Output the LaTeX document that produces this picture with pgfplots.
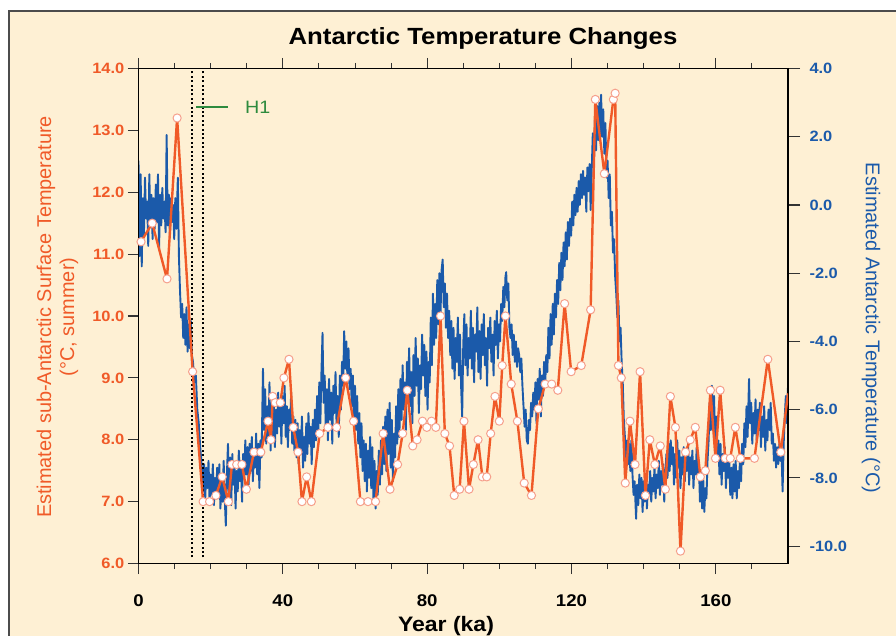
\documentclass[border=0pt]{standalone}
\usepackage{pgfplots}
\pgfplotsset{compat=1.18}
\usepackage{fontspec}
\setmainfont{Liberation Sans}[FakeStretch=1.1]
\newfontfamily\plainsans{Liberation Sans}
\definecolor{bg}{HTML}{FEF0D4}
\definecolor{oran}{HTML}{F05A28}
\definecolor{blu}{HTML}{1B5AAA}
\definecolor{mkedge}{HTML}{F6A08C}
\definecolor{hgreen}{HTML}{2E8B3E}
\definecolor{tickc}{HTML}{333333}
\begin{document}
\begin{tikzpicture}
\path[use as bounding box] (0,0) rectangle (896bp,636bp);
\fill[white] (0,0) rectangle (896bp,636bp);
\fill[bg] (9bp,0) rectangle (896bp,625bp);
\draw[gray!60!black, line width=1.5bp] (9bp,0) -- (9bp,625bp) -- (896bp,625bp);

% ---------------- right (blue) axis ----------------
\begin{axis}[
  at={(138.5bp,72.5bp)}, anchor=south west,
  width=649.5bp, height=495bp, scale only axis,
  xmin=0, xmax=180, ymin=-10.51, ymax=4.0,
  axis x line=none, axis y line*=right,
  ytick={-10,-8,-6,-4,-2,0,2,4},
  yticklabels={-10.0,-8.0,-6.0,-4.0,-2.0,0.0,2.0,4.0},
  tick align=outside, major tick length=12bp,
  y axis line style={line width=1.2bp, black},
  every tick/.style={tickc, line width=1.2bp},
  yticklabel style={font=\fontsize{15}{15}\selectfont\bfseries, text=blu, anchor=west, xshift=6bp},
]
\addplot[blu, line width=1.9bp, line join=round] coordinates {
(0.0,1.3)(0.3,-1.5)(0.6,0.9)(0.9,-1.8)(1.2,0.2)(1.5,-0.9)(1.8,0.8)(2.1,-0.4)(2.4,0.1)(2.7,-1.2)
(3.0,0.9)(3.3,-0.6)(3.6,0.3)(3.9,-1.0)(4.2,0.2)(4.5,-0.7)(4.8,0.6)(5.1,-0.5)(5.4,0.9)(5.7,-1.3)
(6.0,0.3)(6.3,-0.6)(6.6,0.5)(6.9,-0.4)(7.2,0.1)(7.5,-0.8)(7.8,2.05)(8.1,-0.6)(8.4,0.3)(8.7,-0.9)
(9.0,0.2)(9.3,-0.5)(9.6,0.0)(9.9,-1.0)(10.2,0.2)(10.5,-0.7)(10.9,0.8)(11.2,-1.5)(11.5,-2.5)(11.8,-3.3)
(12.1,-2.9)(12.4,-3.9)(12.7,-3.2)(13.0,-4.1)(13.3,-3.0)(13.6,-4.3)(13.9,-3.5)(14.2,-4.2)(14.5,-3.4)(14.8,-4.4)
(15.1,-4.6)(15.5,-5.2)(15.9,-5.0)(16.3,-6.0)(16.7,-6.4)(17.1,-7.1)(17.5,-7.6)(17.9,-8.4)(18.2,-7.6)(18.5,-8.6)
(18.8,-7.7)(19.1,-8.3)(19.4,-7.5)(19.7,-8.7)(20.0,-7.9)(20.3,-8.5)(20.6,-7.6)(20.9,-8.8)(21.2,-8.0)(21.5,-8.6)
(21.8,-7.7)(22.1,-8.4)(22.4,-7.6)(22.7,-8.9)(23.0,-8.1)(23.3,-8.7)(23.6,-7.5)(23.9,-8.6)(24.2,-9.4)(24.5,-7.9)
(24.8,-7.0)(25.1,-8.5)(25.4,-7.4)(25.7,-8.8)(26.0,-7.3)(26.3,-8.2)(26.6,-7.6)(26.9,-8.9)(27.2,-7.8)(27.5,-8.4)
(27.8,-7.2)(28.1,-8.1)(28.4,-7.5)(28.7,-8.7)(29.0,-7.3)(29.3,-8.0)(29.6,-6.9)(29.9,-7.9)(30.2,-7.1)(30.5,-8.2)
(30.8,-7.0)(31.1,-7.8)(31.4,-6.8)(31.7,-8.1)(32.0,-7.2)(32.3,-7.7)(32.6,-6.7)(32.9,-7.9)(33.2,-7.0)(33.5,-8.3)
(33.8,-6.9)(34.1,-7.4)(34.5,-4.8)(34.8,-6.6)(35.1,-5.4)(35.4,-7.0)(35.7,-5.9)(36.0,-6.8)(36.3,-5.2)(36.6,-7.2)
(36.9,-6.1)(37.2,-6.9)(37.5,-5.7)(37.8,-7.1)(38.1,-6.0)(38.4,-6.7)(38.7,-5.5)(39.0,-6.5)(39.3,-5.8)(39.6,-7.0)
(39.9,-5.6)(40.2,-6.4)(40.5,-5.3)(40.8,-6.8)(41.1,-5.9)(41.4,-7.1)(41.7,-6.0)(42.0,-6.6)(42.3,-5.5)(42.6,-7.0)
(42.9,-6.2)(43.2,-7.2)(43.5,-6.3)(43.8,-7.4)(44.1,-6.4)(44.4,-7.6)(44.7,-6.6)(45.0,-7.3)(45.3,-6.2)(45.6,-7.7)
(45.9,-6.8)(46.2,-7.5)(46.5,-6.4)(46.8,-7.3)(47.1,-6.1)(47.4,-7.0)(47.7,-6.5)(48.0,-7.6)(48.3,-6.3)(48.6,-7.1)
(48.9,-6.0)(49.2,-6.9)(49.5,-5.6)(49.8,-6.7)(50.1,-5.2)(50.4,-6.4)(50.7,-4.9)(51.0,-3.75)(51.3,-5.8)(51.6,-5.0)
(51.9,-6.6)(52.2,-5.4)(52.5,-6.9)(52.8,-5.1)(53.1,-6.3)(53.4,-5.5)(53.7,-7.0)(54.0,-5.3)(54.3,-6.1)(54.6,-4.9)
(54.9,-6.5)(55.2,-5.6)(55.5,-6.8)(55.8,-5.0)(56.1,-6.0)(56.4,-4.6)(56.7,-5.3)(57.0,-3.7)(57.3,-4.8)(57.6,-4.0)
(57.9,-5.1)(58.2,-4.2)(58.5,-5.4)(58.8,-4.8)(59.1,-5.9)(59.4,-5.0)(59.7,-6.3)(60.0,-5.3)(60.3,-6.6)(60.6,-5.6)
(60.9,-7.0)(61.2,-6.1)(61.5,-7.4)(61.8,-6.4)(62.1,-7.8)(62.4,-6.9)(62.7,-8.1)(63.0,-7.0)(63.3,-8.4)(63.6,-7.2)
(63.9,-8.0)(64.2,-6.8)(64.5,-8.3)(64.8,-7.1)(65.1,-8.6)(65.4,-7.5)(65.7,-8.9)(66.0,-7.8)(66.3,-8.5)(66.6,-7.2)
(66.9,-8.2)(67.2,-6.9)(67.5,-7.9)(67.8,-6.5)(68.1,-7.6)(68.4,-6.2)(68.7,-7.8)(69.0,-6.0)(69.3,-7.3)(69.6,-5.8)
(69.9,-7.7)(70.2,-6.3)(70.5,-8.1)(70.8,-6.7)(71.1,-7.4)(71.4,-5.9)(71.7,-7.0)(72.0,-5.4)(72.3,-6.8)(72.6,-5.1)
(72.9,-6.3)(73.2,-4.7)(73.5,-6.0)(73.8,-5.2)(74.1,-6.6)(74.4,-4.6)(74.7,-5.7)(75.0,-4.2)(75.3,-5.9)(75.6,-4.9)
(75.9,-6.4)(76.2,-4.4)(76.5,-5.6)(76.8,-3.9)(77.1,-5.3)(77.4,-4.5)(77.7,-6.1)(78.0,-4.7)(78.3,-5.4)(78.6,-3.8)
(78.9,-5.0)(79.2,-4.1)(79.5,-5.6)(79.8,-4.3)(80.1,-6.0)(80.4,-4.6)(80.7,-5.2)(81.0,-3.3)(81.3,-4.7)(81.6,-2.6)
(81.9,-4.1)(82.2,-2.9)(82.5,-3.9)(82.8,-2.2)(83.1,-3.5)(83.4,-2.0)(83.7,-3.2)(84.0,-1.9)(84.3,-1.6)(84.6,-3.0)
(84.9,-2.3)(85.2,-3.6)(85.5,-2.6)(85.8,-3.9)(86.1,-3.1)(86.4,-4.4)(86.7,-3.4)(87.0,-4.8)(87.3,-3.6)(87.6,-5.1)
(87.9,-3.9)(88.2,-4.6)(88.5,-3.3)(88.8,-5.0)(89.1,-3.8)(89.4,-5.3)(89.7,-6.2)(90.0,-4.1)(90.3,-3.2)(90.6,-4.7)
(90.9,-3.5)(91.2,-5.0)(91.5,-3.9)(91.8,-4.5)(92.1,-3.1)(92.4,-4.8)(92.7,-3.6)(93.0,-5.2)(93.3,-3.8)(93.6,-4.3)
(93.9,-3.0)(94.2,-4.9)(94.5,-3.7)(94.8,-5.1)(95.1,-3.5)(95.4,-4.4)(95.7,-3.2)(96.0,-4.7)(96.3,-3.9)(96.6,-5.3)
(96.9,-3.6)(97.2,-4.2)(97.5,-3.3)(97.8,-4.6)(98.1,-3.8)(98.4,-5.0)(98.7,-3.4)(99.0,-4.1)(99.3,-3.1)(99.6,-4.5)
(99.9,-3.5)(100.2,-4.0)(100.5,-2.9)(100.8,-3.4)(101.1,-2.4)(101.4,-3.0)(101.7,-2.1)(101.9,-1.97)(102.2,-2.8)(102.5,-2.3)
(102.8,-3.6)(103.1,-3.9)(103.4,-3.5)(103.7,-4.4)(104.0,-3.8)(104.3,-4.6)(104.6,-4.0)(104.9,-4.75)(105.2,-4.2)(105.5,-4.4)
(105.8,-4.9)(106.1,-4.5)(106.4,-5.3)(106.7,-5.9)(107.0,-6.5)(107.3,-6.0)(107.6,-6.9)(107.9,-7.0)(108.2,-6.3)(108.5,-6.6)
(108.8,-5.8)(109.1,-6.2)(109.4,-5.5)(109.7,-6.0)(110.0,-5.2)(110.3,-6.4)(110.6,-5.1)(110.9,-5.7)(111.2,-4.8)(111.5,-6.2)
(111.8,-5.0)(112.1,-5.6)(112.4,-4.6)(112.7,-5.3)(113.0,-4.4)(113.3,-4.9)(113.6,-3.6)(113.9,-4.5)(114.2,-3.2)(114.5,-4.1)
(114.8,-2.9)(115.1,-3.8)(115.4,-2.6)(115.7,-3.3)(116.0,-2.2)(116.3,-2.9)(116.6,-1.7)(116.9,-2.5)(117.2,-1.4)(117.5,-2.2)
(117.8,-1.1)(118.1,-1.8)(118.4,-0.8)(118.7,-1.6)(119.0,-0.5)(119.3,-1.2)(119.6,-0.4)(119.9,-0.9)(120.2,0.1)(120.5,-0.6)
(120.8,0.3)(121.1,-0.3)(121.4,0.5)(121.7,-0.2)(122.0,0.7)(122.3,0.0)(122.6,0.9)(122.9,0.2)(123.2,1.0)(123.5,0.3)
(123.8,0.8)(124.1,-0.2)(124.4,1.1)(124.7,0.4)(125.0,1.2)(125.3,-0.15)(125.6,1.0)(125.9,2.1)(126.2,1.2)(126.5,2.5)
(126.8,1.6)(127.1,2.9)(127.4,1.9)(127.7,3.0)(128.0,2.1)(128.2,3.23)(128.5,2.0)(128.8,2.8)(129.1,1.5)(129.4,2.4)
(129.7,0.8)(130.0,1.3)(130.3,0.2)(130.6,0.9)(130.9,-0.6)(131.2,-0.2)(131.5,-1.4)(131.8,-1.0)(132.1,-2.1)(132.4,-2.6)
(132.7,-3.3)(133.0,-2.8)(133.3,-4.0)(133.6,-3.6)(133.9,-4.6)(134.2,-5.2)(134.5,-6.3)(134.8,-6.8)(135.1,-7.7)(135.4,-6.9)
(135.7,-7.6)(136.0,-7.0)(136.3,-7.8)(136.6,-6.9)(136.9,-7.9)(137.2,-8.5)(137.5,-8.1)(137.9,-9.2)(138.2,-8.2)(138.5,-8.8)
(138.8,-7.9)(139.1,-8.6)(139.4,-8.0)(139.7,-9.0)(140.0,-8.1)(140.3,-8.7)(140.6,-7.9)(140.9,-8.9)(141.2,-8.2)(141.5,-8.5)
(141.8,-7.8)(142.1,-8.7)(142.4,-8.0)(142.7,-8.4)(143.0,-7.7)(143.3,-8.6)(143.6,-7.9)(143.9,-8.3)(144.2,-7.5)(144.5,-8.5)
(144.8,-7.8)(145.1,-8.2)(145.4,-7.6)(145.7,-8.7)(146.0,-7.9)(146.3,-7.3)(146.6,-8.0)(146.9,-7.0)(147.2,-7.8)(147.5,-6.9)
(147.8,-7.6)(148.1,-7.1)(148.4,-8.2)(148.7,-7.3)(149.0,-8.0)(149.3,-6.9)(149.6,-7.7)(149.9,-7.2)(150.2,-8.3)(150.5,-7.4)
(150.8,-7.9)(151.1,-7.1)(151.4,-8.1)(151.7,-7.3)(152.0,-7.8)(152.3,-7.0)(152.6,-8.2)(152.9,-7.4)(153.2,-7.9)(153.5,-7.2)
(153.8,-8.3)(154.1,-7.5)(154.4,-7.9)(154.7,-7.1)(155.0,-8.0)(155.3,-7.6)(155.6,-8.7)(155.9,-7.8)(156.2,-8.9)(156.5,-8.0)
(156.8,-9.0)(157.1,-8.3)(157.4,-8.6)(157.7,-7.5)(158.0,-6.9)(158.3,-5.8)(158.6,-6.6)(158.9,-5.3)(159.2,-6.3)(159.5,-5.6)
(159.8,-6.9)(160.1,-6.2)(160.4,-7.4)(160.7,-6.9)(161.0,-7.9)(161.3,-7.0)(161.6,-8.2)(161.9,-7.3)(162.2,-7.8)(162.5,-7.1)
(162.8,-8.3)(163.1,-7.5)(163.4,-8.0)(163.7,-7.4)(164.0,-8.5)(164.3,-7.7)(164.6,-8.6)(164.9,-7.6)(165.2,-8.4)(165.5,-7.5)
(165.8,-8.6)(166.1,-7.8)(166.4,-8.3)(166.7,-7.4)(167.0,-8.1)(167.3,-7.0)(167.6,-7.6)(167.9,-6.4)(168.2,-7.1)(168.5,-5.9)
(168.8,-6.8)(169.2,-5.1)(169.5,-6.4)(169.8,-5.8)(170.1,-7.0)(170.4,-6.1)(170.7,-6.7)(171.0,-5.7)(171.3,-6.9)(171.6,-6.0)
(171.9,-6.6)(172.2,-5.8)(172.5,-7.1)(172.8,-6.2)(173.1,-6.8)(173.4,-5.9)(173.7,-7.2)(174.0,-6.3)(174.3,-6.9)(174.6,-6.0)
(174.9,-6.6)(175.2,-5.8)(175.5,-7.0)(175.8,-6.7)(176.1,-7.5)(176.4,-7.0)(176.7,-7.7)(177.0,-7.1)(177.3,-7.6)(177.6,-7.0)
(177.9,-7.5)(178.2,-7.2)(178.5,-8.4)(178.8,-7.0)(179.1,-6.2)(179.4,-5.6)(179.7,-6.4)(180.0,-5.3)
};
\end{axis}

% ---------------- left (orange) axis ----------------
\begin{axis}[
  at={(138.5bp,72.5bp)}, anchor=south west,
  width=649.5bp, height=495bp, scale only axis,
  xmin=0, xmax=180, ymin=6, ymax=14,
  xtick={0,40,80,120,160}, xticklabels={0,40,80,120,160},
  minor xtick={10,20,30,50,60,70,90,100,110,130,140,150,170},
  ytick={6,7,8,9,10,11,12,13,14},
  yticklabels={6.0,7.0,8.0,9.0,10.0,11.0,12.0,13.0,14.0},
  ytick pos=left,
  tick align=outside, major tick length=10.7bp, minor tick length=5.7bp,
  axis line style={line width=1.2bp, black},
  every tick/.style={tickc, line width=1.2bp},
  every minor tick/.style={tickc, line width=1.0bp},
  yticklabel style={font=\fontsize{15}{15}\selectfont\bfseries, text=oran},
  xticklabel style={font=\fontsize{17}{17}\selectfont\bfseries, text=black, yshift=-17bp},
]
\addplot[black, line width=2bp, dash pattern=on 2bp off 2.4bp] coordinates {(14.75,6.1)(14.75,14)};
\addplot[black, line width=2bp, dash pattern=on 2bp off 2.4bp] coordinates {(17.9,6.1)(17.9,14)};
\addplot[hgreen, line width=1.8bp] coordinates {(15.9,13.375)(24.9,13.375)};
\addplot[oran, line width=2.4bp] coordinates {(178.0,7.8)(180,8.75)};
\addplot[oran, line width=2.4bp, line join=round, mark=*, mark size=4.1bp,
  mark options={fill=white, draw=mkedge, line width=1bp}] coordinates {
(0.7,11.2)(3.8,11.5)(7.9,10.6)(10.7,13.2)(15.0,9.1)(17.9,7.0)(19.7,7.0)(21.45,7.1)(23.2,7.4)(24.9,7.0)
(25.9,7.6)(27.2,7.6)(28.65,7.6)(29.9,7.2)(32.0,7.8)(33.9,7.8)(35.9,8.3)(36.7,8.0)(37.2,8.7)(37.9,8.6)
(39.3,8.6)(40.3,9.0)(41.7,9.3)(42.9,8.2)(44.2,7.8)(45.3,7.0)(46.6,7.4)(47.9,7.0)(50.2,8.1)(52.5,8.2)
(54.9,8.2)(57.4,9.0)(59.6,8.3)(61.5,7.0)(63.6,7.0)(65.7,7.0)(67.8,8.1)(69.7,7.2)(71.8,7.6)(73.2,8.1)
(74.5,8.8)(76.0,7.9)(77.2,8.0)(78.7,8.3)(79.9,8.2)(81.2,8.3)(82.4,8.2)(83.7,10.0)(84.9,8.1)(86.2,7.9)
(87.5,7.1)(89.0,7.2)(90.2,8.3)(91.6,7.2)(92.8,7.6)(94.1,8.0)(95.3,7.4)(96.5,7.4)(97.6,8.1)(98.8,8.7)
(100.0,8.3)(100.8,9.2)(101.7,10.0)(103.3,8.9)(105.0,8.3)(106.9,7.3)(108.9,7.1)(110.8,8.5)(112.7,8.9)(114.5,8.9)
(116.2,8.8)(118.1,10.2)(119.9,9.1)(122.7,9.2)(125.3,10.1)(126.6,13.5)(129.1,12.3)(131.6,13.5)(132.1,13.6)(133.0,9.2)
(133.8,9.0)(134.9,7.3)(136.2,8.3)(137.6,7.6)(139.0,9.1)(140.5,7.1)(141.7,8.0)(143.1,7.6)(144.6,7.9)(146.0,7.2)
(147.4,8.7)(148.8,8.2)(150.2,6.2)(151.6,7.8)(152.9,8.0)(154.3,8.2)(155.7,7.4)(157.1,7.5)(158.5,8.8)(159.9,7.7)
(161.2,8.8)(162.6,7.7)(164.0,7.7)(165.4,8.2)(166.8,7.7)(170.7,7.7)(174.4,9.3)(178.0,7.8)
};
\end{axis}

% ---------------- texts ----------------
\node[anchor=base, font=\fontsize{23.5}{24}\selectfont\bfseries] at (483bp,591bp) {Antarctic Temperature Changes};
\node[anchor=base, font=\fontsize{21}{21}\selectfont\bfseries] at (446bp,4.5bp) {Year (ka)};
\node[anchor=base west, text=hgreen, font=\fontsize{18}{18}\selectfont] at (241.7bp,522.7bp) {H1};
\node[rotate=90, text=oran, font=\plainsans\fontsize{20}{20}\selectfont] at (46bp,319bp) {Estimated sub-Antarctic Surface Temperature};
\node[rotate=90, text=oran, font=\plainsans\fontsize{20}{20}\selectfont] at (69bp,319bp) {(°C, summer)};
\node[rotate=-90, text=blu, font=\plainsans\fontsize{20}{20}\selectfont] at (871bp,308bp) {Estimated Antarctic Temperature (°C)};
\end{tikzpicture}
\end{document}
